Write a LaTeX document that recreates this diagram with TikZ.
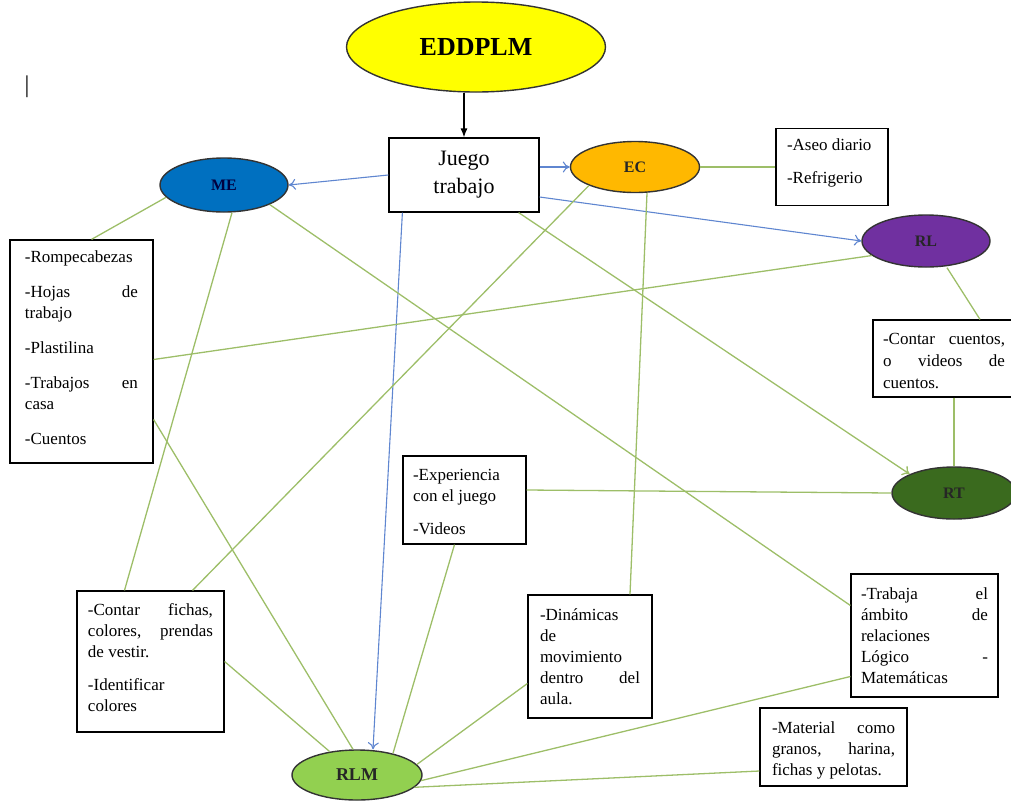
\documentclass[tikz,border=0pt]{standalone}
\usepackage{fontspec}
\setmainfont{Liberation Serif}
\usepackage{tikz}
\usetikzlibrary{shapes,arrows,arrows.meta,positioning}

\definecolor{amarillo}{HTML}{FFFF00}
\definecolor{azulme}{HTML}{0070C0}
\definecolor{naranja}{HTML}{FFB800}
\definecolor{morado}{HTML}{7030A0}
\definecolor{verdeosc}{HTML}{3A6A1E}
\definecolor{verdecl}{HTML}{92D050}
\definecolor{lineaazul}{HTML}{5F86D0}
\definecolor{lineaverde}{HTML}{9DBE68}

% width, height, first baseline, text
\newcommand{\lista}[4]{\parbox[c][#2][t]{#1}{\fontsize{17}{21}\selectfont\rule{0pt}{#3}#4}}

\tikzset{
  elipse/.style={ellipse, draw=black!80, line width=1.4pt, inner sep=0pt, text=black!85,
    font=\fontsize{16}{16}\selectfont\bfseries},
  caja/.style={rectangle, draw, line width=1.2pt, inner ysep=0pt},
  rel/.style={draw=lineaverde, line width=1.3pt},
  punta/.style={-{To[length=7pt, width=11pt]}},
  flecha/.style={punta, draw=lineaazul, line width=1.1pt}
}

\begin{document}
\begin{tikzpicture}[x=1pt, y=-1pt, node distance=128pt]
\useasboundingbox (-476,-47) rectangle (535,754);

\node (top) [elipse, fill=amarillo, minimum width=259pt, minimum height=90pt, text=black, font=\fontsize{26}{26}\selectfont\bfseries] {EDDPLM};
\node (juego) [rectangle, draw, line width=1.2pt, below of=top, xshift=-12pt, minimum width=150pt, minimum height=74pt, align=center, font=\fontsize{22}{28}\selectfont] {Juego\\trabajo};

\node (me) [elipse, fill=azulme, text=blue!25!black, left of=juego, xshift=-112pt, yshift=-10pt, minimum width=128pt, minimum height=54pt] {ME};
\node (bar) [left of=me, xshift=-69pt, yshift=98pt, font=\fontsize{24}{24}\selectfont, inner sep=0pt] {|};
\node (ec) [elipse, fill=naranja, right of=juego, xshift=43pt, yshift=8pt, minimum width=129pt, minimum height=51pt] {EC};
\node (aseo) [caja, inner xsep=11pt, right of=ec, xshift=69pt] {\lista{90pt}{77pt}{22pt}{-Aseo diario\\[12pt]-Refrigerio}};
\node (rl) [elipse, fill=morado, right of=ec, xshift=163pt, yshift=-74pt, minimum width=128pt, minimum height=52pt] {RL};
\node (cuentos) [caja, inner xsep=10pt, below of=rl, xshift=18pt, yshift=10.5pt] {\lista{122pt}{77pt}{24pt}{-Contar \hfill cuentos,\\[1pt]o \hfill videos \hfill de\\[1pt]cuentos.}};
\node (rt) [elipse, fill=verdeosc, below of=cuentos, xshift=10pt, yshift=-6.5pt, minimum width=124pt, minimum height=52pt] {RT};
\node (trabaja) [caja, inner xsep=10pt, below of=rt, xshift=-29.5pt, yshift=-14.5pt] {\lista{127pt}{123pt}{25pt}{-Trabaja \hfill el\\ámbito \hfill de\\relaciones\\Lógico \hfill -\\Matemáticas}};
\node (material) [caja, inner xsep=12pt, below of=trabaja, xshift=-91pt, yshift=16.5pt] {\lista{123pt}{78pt}{25pt}{-Material \hfill como\\granos, \hfill harina,\\fichas y pelotas.}};

\node (rompe) [caja, inner xsep=15pt, below of=me, xshift=-142.5pt, yshift=-38.5pt] {\lista{113pt}{223pt}{22pt}{-Rompecabezas\\[14pt]-Hojas \hfill de\\trabajo\\[14pt]-Plastilina\\[14pt]-Trabajos \hfill en\\casa\\[14pt]-Cuentos}};
\node (fichas) [caja, inner xsep=11pt, below of=rompe, xshift=69pt, yshift=-182pt] {\lista{125pt}{141pt}{24pt}{-Contar \hfill fichas,\\colores, \hfill prendas\\de vestir.\\[12pt]-Identificar\\colores}};
\node (rlm) [elipse, fill=verdecl, below of=fichas, xshift=206.5pt, yshift=14.5pt, minimum width=130pt, minimum height=50pt, font=\fontsize{18}{18}\selectfont\bfseries] {RLM};
\node (exper) [caja, inner xsep=10pt, below of=juego, xshift=0.5pt, yshift=-197pt] {\lista{103pt}{88pt}{24pt}{-Experiencia\\con el juego\\[12pt]-Videos}};
\node (dinam) [caja, inner xsep=12pt, below of=exper, xshift=125.5pt, yshift=-28.5pt] {\lista{100pt}{123pt}{25pt}{-Dinámicas\\de\\movimiento\\dentro \hfill del\\aula.}};

% arrows from the centre
\draw [-{Latex[length=9pt, width=7pt]}, line width=1.2pt] (top.south -| juego.north) -- (juego.north);
\draw [flecha] (juego.west) -- (me.east);
\draw [flecha] (juego.east |- ec.west) -- (ec.west);
\draw [flecha] ([yshift=-22pt]juego.east) -- (rl.west);
\draw [flecha] ([xshift=14pt]juego.south west) -- ([xshift=16pt]rlm.north);
\draw [rel, punta] ([xshift=-21pt]juego.south east) -- (rt.north west);

% relations
\draw [rel] (me.192) -- ([xshift=10pt]rompe.north);
\draw [rel] ([xshift=8pt]me.south) -- ([xshift=-26pt]fichas.north);
\draw [rel] (me.south east) -- ([yshift=30pt]trabaja.west);
\draw [rel] (ec.east) -- (ec.east -| aseo.west);
\draw [rel] (ec.south west) -- ([xshift=42pt]fichas.north);
\draw [rel] ([xshift=12pt]ec.south) -- ([xshift=40pt]dinam.north);
\draw [rel] (rl.195) -- ([yshift=-8pt]rompe.east);
\draw [rel] ([xshift=21pt]rl.south) -- ([xshift=36pt]cuentos.north);
\draw [rel] (cuentos.south -| rt.north) -- (rt.north);
\draw [rel] ([yshift=10pt]exper.east) -- (rt.west);
\draw [rel] ([yshift=-68pt]rompe.east) -- ([xshift=-4pt]rlm.north);
\draw [rel] (fichas.east) -- (rlm);
\draw [rel] ([xshift=-10pt]exper.south) -- ([xshift=36pt, yshift=-4pt]rlm.north);
\draw [rel] ([yshift=-27pt]dinam.west) -- (rlm.10);
\draw [rel] ([yshift=-41pt]trabaja.west) -- (rlm.355);
\draw [rel] ([yshift=-24pt]material.west) -- (rlm.348);
\end{tikzpicture}
\end{document}
